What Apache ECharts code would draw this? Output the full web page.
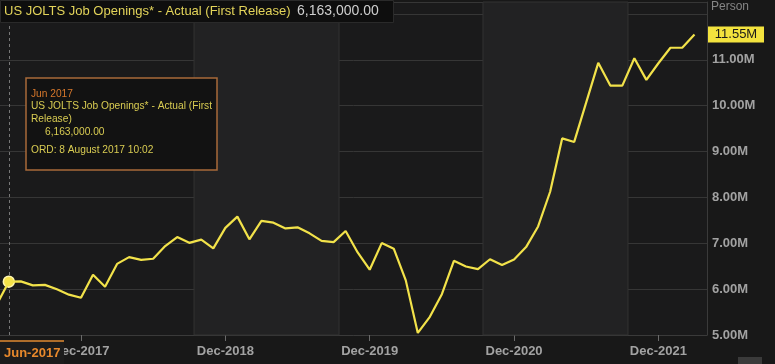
<!DOCTYPE html>
<html>
<head>
<meta charset="utf-8">
<script src="https://cdn.jsdelivr.net/npm/echarts@6/dist/echarts.min.js"></script>
<style>
html,body{margin:0;padding:0;background:#181818;}
#c{width:775px;height:364px;}
</style>
</head>
<body>
<div id="c"></div>
<script>
// ---- data ----
const months = [
 'May 2017','Jun 2017','Jul 2017','Aug 2017','Sep 2017','Oct 2017','Nov 2017','Dec 2017',
 'Jan 2018','Feb 2018','Mar 2018','Apr 2018','May 2018','Jun 2018','Jul 2018','Aug 2018','Sep 2018','Oct 2018','Nov 2018','Dec 2018',
 'Jan 2019','Feb 2019','Mar 2019','Apr 2019','May 2019','Jun 2019','Jul 2019','Aug 2019','Sep 2019','Oct 2019','Nov 2019','Dec 2019',
 'Jan 2020','Feb 2020','Mar 2020','Apr 2020','May 2020','Jun 2020','Jul 2020','Aug 2020','Sep 2020','Oct 2020','Nov 2020','Dec 2020',
 'Jan 2021','Feb 2021','Mar 2021','Apr 2021','May 2021','Jun 2021','Jul 2021','Aug 2021','Sep 2021','Oct 2021','Nov 2021','Dec 2021',
 'Jan 2022','Feb 2022','Mar 2022'
];
const openings = [
 5.666,6.163,6.170,6.082,6.093,5.996,5.879,5.811,
 6.312,6.052,6.550,6.698,6.638,6.662,6.939,7.136,7.009,7.079,6.888,7.335,
 7.581,7.087,7.488,7.449,7.323,7.348,7.217,7.051,7.024,7.267,6.800,6.423,
 7.004,6.882,6.191,5.046,5.397,5.889,6.618,6.493,6.436,6.652,6.527,6.646,
 6.917,7.367,8.123,9.286,9.209,10.073,10.934,10.439,10.438,11.033,10.562,10.925,
 11.263,11.266,11.549
];
const xTickMonths = ['Dec 2017','Dec 2018','Dec 2019','Dec 2020','Dec 2021'];
const xTickLabels = ['Dec-2017','Dec-2018','Dec-2019','Dec-2020','Dec-2021'];
const yTickLabels = [5,6,7,8,9,10,11];
const highlightMonth = 'Jun 2017';
const highlightLabel = 'Jun-2017';
const titleText = 'US JOLTS Job Openings* - Actual (First Release)';
const titleValue = '6,163,000.00';
const ordText = 'ORD: 8 August 2017 10:02';

const xTickIdx = xTickMonths.map(m => months.indexOf(m));
const hIdx = months.indexOf(highlightMonth);
const lastIdx = openings.length - 1;

const chart = echarts.init(document.getElementById('c'), null, {renderer:'canvas'});
const axisColor = '#a2a2a2';
const FONT = 'Liberation Sans';

chart.setOption({
  backgroundColor: '#181818',
  animation: false,
  grid: {left: 0, right: 68, top: 2, bottom: 29, show: true, backgroundColor: '#1a1a1b', borderWidth: 0},
  xAxis: {
    type: 'value', min: 0.268, max: 59.04,
    axisLine: {show: true, lineStyle: {color: '#3a3a3a', width: 1}},
    axisTick: {show: true, customValues: xTickIdx, length: 6, lineStyle: {color: '#6a6a6a'}},
    axisLabel: {customValues: xTickIdx, color: axisColor, fontFamily: FONT, fontSize: 13, fontWeight: 'bold', margin: 10,
      formatter: v => xTickLabels[xTickIdx.indexOf(Math.round(v))] || ''},
    splitLine: {show: false}
  },
  yAxis: {
    type: 'value', position: 'right', min: 5, max: 12.26, interval: 1,
    axisLine: {show: true, lineStyle: {color: '#3a3a3a'}},
    axisTick: {show: false},
    axisLabel: {customValues: yTickLabels, color: axisColor, fontFamily: FONT, fontSize: 13, fontWeight: 'bold', margin: 5,
      formatter: v => v.toFixed(2) + 'M'},
    splitLine: {show: true, lineStyle: {color: '#363636', width: 1}}
  },
  series: [{
    type: 'line',
    data: openings.map((v, i) => [i, v]),
    symbol: 'none',
    lineStyle: {color: '#f2e24a', width: 2.2},
    z: 5,
    markArea: {
      silent: true,
      itemStyle: {color: '#222223', borderColor: '#333', borderWidth: 1},
      data: [
        [{xAxis: 16.4}, {xAxis: 28.45}],
        [{xAxis: 40.42}, {xAxis: 52.47}]
      ]
    },
    markLine: {
      silent: true, symbol: 'none', label: {show: false},
      lineStyle: {color: '#777', type: [3, 3], width: 1},
      data: [{xAxis: hIdx}]
    },
    markPoint: {
      silent: true,
      symbol: 'circle', symbolSize: 11,
      itemStyle: {color: '#f6e24a', borderColor: '#fff6b0', borderWidth: 1.5},
      label: {show: false},
      data: [{coord: [hIdx, openings[hIdx]]}]
    }
  }]
});

const lastY = chart.convertToPixel({yAxisIndex: 0}, openings[lastIdx]);
const fmtTip = (openings[hIdx] * 1e6).toLocaleString('en-US', {minimumFractionDigits: 2, maximumFractionDigits: 2});
const tipFont = '10.2px "Liberation Sans"';

chart.setOption({
  graphic: [
    // title box
    {type: 'rect', left: 0, top: 0, shape: {width: 393, height: 22}, style: {fill: '#0e0e0e', stroke: '#2a2a2a', lineWidth: 1}, z: 100},
    {type: 'text', x: 4, y: 11, style: {text: titleText, fill: '#e3d45a', font: '13px "Liberation Sans"', verticalAlign: 'middle'}, z: 101},
    {type: 'text', x: 297, y: 11, style: {text: titleValue, fill: '#cfcfcf', font: '14px "Liberation Sans"', verticalAlign: 'middle'}, z: 101},
    // Person
    {type: 'text', x: 711, y: 7, style: {text: 'Person', fill: '#858585', font: '12px "Liberation Sans"', verticalAlign: 'middle'}, z: 101},
    // last value label
    {type: 'rect', shape: {x: 708, y: lastY - 8, width: 56, height: 16}, style: {fill: '#f3e33e'}, z: 100},
    {type: 'text', x: 736, y: lastY, style: {text: (openings[lastIdx]).toFixed(2) + 'M', fill: '#1a1a1a', font: '13px "Liberation Sans"', align: 'center', verticalAlign: 'middle'}, z: 101},
    // tooltip
    {type: 'rect', shape: {x: 26, y: 78, width: 191, height: 92}, style: {fill: '#121212', stroke: '#a86a3a', lineWidth: 1.5}, z: 100},
    {type: 'text', x: 31, y: 94, style: {text: highlightMonth, fill: '#d7782c', font: tipFont, verticalAlign: 'middle'}, z: 101},
    {type: 'text', x: 31, y: 106.5, style: {text: 'US JOLTS Job Openings* - Actual (First', fill: '#d9cc52', font: tipFont, verticalAlign: 'middle'}, z: 101},
    {type: 'text', x: 31, y: 119, style: {text: 'Release)', fill: '#d9cc52', font: tipFont, verticalAlign: 'middle'}, z: 101},
    {type: 'text', x: 45, y: 132, style: {text: fmtTip, fill: '#d9cc52', font: tipFont, verticalAlign: 'middle'}, z: 101},
    {type: 'text', x: 31, y: 150, style: {text: ordText, fill: '#d9cc52', font: tipFont, verticalAlign: 'middle'}, z: 101},
    // bottom highlighted x label
    {type: 'rect', shape: {x: 0, y: 341, width: 64, height: 23}, style: {fill: '#1c1c1c'}, z: 100},
    {type: 'line', shape: {x1: 0, y1: 341, x2: 64, y2: 341}, style: {stroke: '#e08a30', lineWidth: 1.5}, z: 101},
    {type: 'text', x: 4, y: 353, style: {text: highlightLabel, fill: '#e8892c', font: 'bold 13px "Liberation Sans"', verticalAlign: 'middle'}, z: 101},
    // small UI bits bottom-right
    {type: 'rect', shape: {x: 738, y: 357, width: 24, height: 7}, style: {fill: '#3a3a3a'}, z: 100}
  ]
});
</script>
</body>
</html>
